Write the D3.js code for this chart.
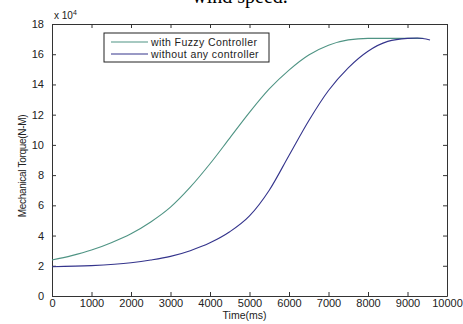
<!DOCTYPE html>
<head>
  <meta charset='utf-8'>
  <script src='https://d3js.org/d3.v7.min.js'></script>
  <style>
    body { margin: 0; background: #fff; }
    text { font-family: 'Liberation Sans', Arial, sans-serif; fill: #222; }
  </style>
</head>
<body>
<script>
// time in ms, torque in units of 1e4 N-M
const timeFuzzy = [0, 500, 1000, 1500, 2000, 2500, 3000, 3500, 4000, 4500, 5000, 5500, 6000, 6500, 7000, 7500, 8000, 9400];
const torqueFuzzy = [2.38, 2.67, 3.04, 3.53, 4.12, 4.9, 5.88, 7.2, 8.75, 10.45, 12.15, 13.7, 14.95, 15.95, 16.6, 16.95, 17.05, 17.05];
const timeNoCtrl = [0, 1000, 2000, 2500, 3000, 3500, 4000, 4500, 5000, 5500, 6000, 6500, 7000, 7500, 8000, 8500, 9000, 9250, 9570];
const torqueNoCtrl = [1.94, 2.01, 2.2, 2.38, 2.62, 3.0, 3.52, 4.25, 5.3, 7.0, 9.3, 11.6, 13.6, 15.1, 16.2, 16.85, 17.05, 17.07, 16.94];
const xTicks = [0, 1000, 2000, 3000, 4000, 5000, 6000, 7000, 8000, 9000, 10000];
const yTicks = [0, 2, 4, 6, 8, 10, 12, 14, 16, 18];
const seriesNames = ['with Fuzzy Controller', 'without any controller'];
const colors = ['#4f9484', '#34348c'];

const width = 463, height = 324;
const margin = {top: 24, right: 16, bottom: 28, left: 52};
const innerWidth = width - margin.left - margin.right,
  innerHeight = height - margin.top - margin.bottom;

const svg = d3.select('body').append('svg').attr('width', width).attr('height', height);

// cut-off caption from the paper above the figure
svg.append('text')
  .attr('x', 240).attr('y', 3)
  .attr('text-anchor', 'middle')
  .style('font-family', "'Liberation Serif', serif")
  .style('font-size', '20px')
  .style('fill', '#000')
  .text('wind speed.');

const g = svg.append('g').attr('transform', `translate(${margin.left},${margin.top})`);

const x = d3.scaleLinear().domain([0, 10000]).range([0, innerWidth]);
const y = d3.scaleLinear().domain([0, 18]).range([innerHeight, 0]);

// axes with inward ticks, matlab box style
const axBottom = g.append('g').attr('transform', `translate(0,${innerHeight})`)
  .call(d3.axisBottom(x).tickValues(xTicks).tickSizeInner(-4).tickSizeOuter(0).tickPadding(3).tickFormat(d3.format('d')));
const axTop = g.append('g')
  .call(d3.axisTop(x).tickValues(xTicks).tickSizeInner(-4).tickSizeOuter(0).tickFormat(''));
const axLeft = g.append('g')
  .call(d3.axisLeft(y).tickValues(yTicks).tickSizeInner(-4).tickSizeOuter(0).tickPadding(8));
const axRight = g.append('g').attr('transform', `translate(${innerWidth},0)`)
  .call(d3.axisRight(y).tickValues(yTicks).tickSizeInner(-4).tickSizeOuter(0).tickFormat(''));

[axBottom, axTop, axLeft, axRight].forEach(a => {
  a.selectAll('.domain').attr('stroke', '#333');
  a.selectAll('.tick line').attr('stroke', '#333');
  a.selectAll('text').style('font-size', '11px').style('font-family', "'Liberation Sans', Arial, sans-serif").attr('fill', '#222');
});

// exponent label
const ex = g.append('text').attr('x', 2).attr('y', -5).style('font-size', '10px');
ex.append('tspan').text('x 10');
ex.append('tspan').attr('dy', -4).style('font-size', '7px').text('4');

// axis titles
svg.append('text')
  .attr('x', margin.left + innerWidth / 2 - 5).attr('y', 319)
  .attr('text-anchor', 'middle')
  .style('font-size', '10.5px')
  .text('Time(ms)');

svg.append('text')
  .attr('transform', `translate(26,${margin.top + innerHeight / 2 + 6}) rotate(-90)`)
  .attr('text-anchor', 'middle')
  .style('font-size', '10px')
  .style('letter-spacing', '-0.3px')
  .text('Mechanical Torque(N-M)');

const line = d3.line().x(d => x(d[0])).y(d => y(d[1])).curve(d3.curveMonotoneX);

const series = [
  timeFuzzy.map((t, i) => [t, torqueFuzzy[i]]),
  timeNoCtrl.map((t, i) => [t, torqueNoCtrl[i]])
];

g.selectAll('.series')
  .data(series)
  .enter().append('path')
  .attr('class', 'series')
  .attr('fill', 'none')
  .attr('stroke', (d, i) => colors[i])
  .attr('stroke-width', 1.1)
  .attr('d', line);

// legend
const legend = g.append('g').attr('transform', 'translate(52,9)');
legend.append('rect')
  .attr('width', 165).attr('height', 29)
  .attr('fill', '#fff').attr('stroke', '#222').attr('stroke-width', 1);

const items = legend.selectAll('.item')
  .data(seriesNames)
  .enter().append('g')
  .attr('transform', (d, i) => `translate(0,${9 + i * 12})`);

items.append('line')
  .attr('x1', 7).attr('x2', 44)
  .attr('stroke', (d, i) => colors[i]).attr('stroke-width', 1.1);

items.append('text')
  .attr('x', 47).attr('dy', '0.35em')
  .style('font-size', '10.5px')
  .style('letter-spacing', '0.4px')
  .text(d => d);
</script>
</body>
